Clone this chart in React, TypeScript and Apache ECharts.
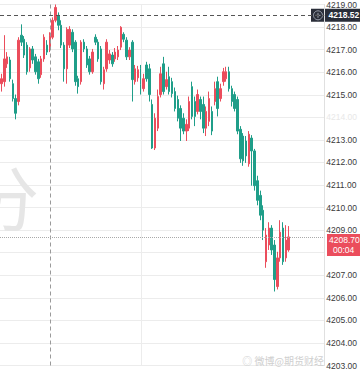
import React, { useEffect, useRef } from "react";
import * as echarts from "echarts";

// [open, close, low, high]
const candles: number[][] = [
  [4215.49, 4215.71, 4215.14, 4215.93],
  [4215.58, 4216.59, 4215.36, 4217.64],
  [4216.37, 4216.68, 4216.19, 4216.89],
  [4216.54, 4215.71, 4215.58, 4216.68],
  [4215.49, 4214.83, 4214.70, 4215.67],
  [4214.83, 4214.18, 4213.91, 4215.01],
  [4214.70, 4217.42, 4214.53, 4217.55],
  [4217.64, 4217.33, 4217.16, 4218.12],
  [4217.46, 4216.76, 4216.63, 4217.60],
  [4217.20, 4216.02, 4215.89, 4217.33],
  [4216.19, 4217.03, 4216.02, 4217.11],
  [4217.03, 4216.54, 4216.37, 4217.16],
  [4216.68, 4216.02, 4215.89, 4216.81],
  [4216.46, 4215.71, 4215.49, 4216.59],
  [4215.89, 4216.59, 4215.75, 4216.72],
  [4216.59, 4217.55, 4216.46, 4217.68],
  [4217.20, 4216.89, 4216.76, 4217.42],
  [4217.03, 4217.64, 4216.89, 4217.77],
  [4217.55, 4218.30, 4217.46, 4218.43],
  [4218.30, 4218.87, 4218.21, 4219.00],
  [4218.52, 4218.08, 4217.86, 4218.65],
  [4218.08, 4217.20, 4217.07, 4218.30],
  [4217.20, 4216.15, 4215.58, 4217.33],
  [4216.15, 4217.90, 4215.49, 4217.99],
  [4217.20, 4217.90, 4217.07, 4218.04],
  [4217.77, 4217.03, 4216.89, 4217.90],
  [4217.33, 4215.58, 4215.40, 4217.42],
  [4215.71, 4215.36, 4215.05, 4215.84],
  [4215.58, 4217.33, 4215.45, 4217.42],
  [4217.33, 4217.03, 4216.89, 4217.46],
  [4217.03, 4216.32, 4216.19, 4217.16],
  [4216.59, 4216.02, 4215.89, 4216.72],
  [4216.02, 4216.89, 4215.93, 4217.03],
  [4217.55, 4217.33, 4217.20, 4217.68],
  [4217.33, 4216.59, 4216.46, 4217.46],
  [4217.03, 4215.58, 4215.45, 4217.16],
  [4215.49, 4216.11, 4215.23, 4216.24],
  [4216.15, 4217.33, 4216.02, 4217.46],
  [4216.54, 4216.81, 4216.37, 4216.98],
  [4216.76, 4216.37, 4216.24, 4216.89],
  [4216.59, 4216.89, 4216.46, 4217.07],
  [4216.68, 4216.98, 4216.54, 4217.16],
  [4217.11, 4217.99, 4216.98, 4218.04],
  [4217.68, 4217.46, 4217.33, 4217.77],
  [4217.42, 4216.68, 4216.54, 4217.55],
  [4216.68, 4216.98, 4216.54, 4217.11],
  [4217.33, 4215.67, 4214.70, 4217.42],
  [4215.58, 4216.15, 4215.45, 4216.32],
  [4215.75, 4216.11, 4215.58, 4216.28],
  [4216.15, 4215.45, 4215.01, 4216.32],
  [4215.27, 4215.71, 4215.14, 4215.93],
  [4216.32, 4215.71, 4215.58, 4216.46],
  [4216.15, 4215.01, 4214.70, 4216.37],
  [4214.57, 4212.64, 4212.60, 4214.79],
  [4212.64, 4213.96, 4212.55, 4214.18],
  [4213.52, 4214.92, 4213.39, 4215.23],
  [4215.01, 4215.93, 4214.88, 4216.24],
  [4216.37, 4215.14, 4215.01, 4216.68],
  [4215.36, 4215.67, 4215.23, 4216.02],
  [4215.80, 4215.14, 4215.01, 4216.24],
  [4215.58, 4215.05, 4214.88, 4215.75],
  [4215.14, 4214.39, 4214.26, 4215.32],
  [4214.79, 4213.96, 4213.82, 4214.96],
  [4214.39, 4213.52, 4212.95, 4214.53],
  [4213.96, 4213.39, 4213.25, 4214.18],
  [4213.39, 4213.69, 4212.95, 4213.91],
  [4213.52, 4214.70, 4213.39, 4214.92],
  [4215.36, 4214.04, 4213.91, 4215.58],
  [4214.70, 4214.04, 4213.61, 4214.92],
  [4214.26, 4215.01, 4214.13, 4215.23],
  [4214.79, 4214.26, 4213.91, 4214.92],
  [4214.57, 4213.52, 4213.30, 4214.92],
  [4213.52, 4214.26, 4213.17, 4214.48],
  [4213.82, 4214.83, 4213.61, 4215.14],
  [4214.26, 4213.39, 4213.21, 4214.48],
  [4214.70, 4215.27, 4214.53, 4215.58],
  [4215.58, 4214.39, 4214.04, 4215.80],
  [4214.83, 4215.27, 4214.70, 4215.49],
  [4215.58, 4216.02, 4215.40, 4216.19],
  [4215.71, 4216.02, 4215.58, 4216.24],
  [4216.02, 4215.27, 4215.14, 4216.24],
  [4215.27, 4214.70, 4214.48, 4215.40],
  [4215.01, 4214.39, 4214.26, 4215.14],
  [4214.79, 4213.39, 4213.25, 4214.92],
  [4213.47, 4212.16, 4211.98, 4213.61],
  [4213.17, 4212.07, 4211.85, 4213.30],
  [4212.95, 4212.29, 4211.98, 4213.17],
  [4211.94, 4213.25, 4211.81, 4213.39],
  [4213.08, 4212.51, 4210.97, 4213.21],
  [4212.51, 4210.97, 4210.75, 4212.60],
  [4211.19, 4210.32, 4210.10, 4211.41],
  [4210.54, 4209.66, 4209.44, 4210.75],
  [4209.88, 4209.00, 4208.56, 4210.10],
  [4207.60, 4208.78, 4207.33, 4209.09],
  [4208.34, 4209.09, 4208.12, 4209.35],
  [4209.09, 4208.12, 4207.90, 4209.22],
  [4208.34, 4206.81, 4206.28, 4208.56],
  [4206.50, 4207.77, 4206.37, 4208.04],
  [4207.77, 4208.91, 4207.60, 4209.44],
  [4209.09, 4207.60, 4207.46, 4209.35],
  [4207.77, 4208.56, 4207.60, 4209.22],
  [4208.12, 4208.70, 4208.04, 4209.18],
];

const emptySlots = 12;
const yMin = 4203;
const yMax = 4219;
const yStep = 1;
const markedHigh = 4218.52;
const lastPrice = 4208.7;
const countdown = "00:04";
const crosshairIndex = 17;
const gridLineIndex = 49;
const fadedTick = 4214;
const hiddenTick = 4208;

const categories: string[] = [];
for (let i = 0; i < candles.length + emptySlots; i++) {
  const m = 9 * 60 + i;
  categories.push(
    String(Math.floor(m / 60)).padStart(2, "0") + ":" + String(m % 60).padStart(2, "0")
  );
}
const seriesData: any[] = [...candles];
for (let i = 0; i < emptySlots; i++) seriesData.push("-");

const UP = "#eb4d5c";
const DOWN = "#1f9e89";
const FONT = "Liberation Sans";
const FS = 8.5;

export default function App() {
  const ref = useRef<HTMLDivElement>(null);
  useEffect(() => {
    if (!ref.current) return;
    const chart = echarts.init(ref.current, undefined, { renderer: "svg" });
    chart.setOption({
      animation: false,
      backgroundColor: "#ffffff",
      grid: { left: 0, right: 33, top: 2, bottom: 3, containLabel: false },
      xAxis: {
        type: "category",
        data: categories,
        boundaryGap: true,
        axisLine: { show: false },
        axisTick: { show: false },
        axisLabel: { show: false },
        splitLine: { show: false },
      },
      yAxis: {
        type: "value",
        position: "right",
        min: yMin,
        max: yMax,
        interval: yStep,
        axisLine: { show: true, lineStyle: { color: "#e0e0e0" } },
        axisTick: { show: false },
        splitLine: { show: true, lineStyle: { color: "#ececec", width: 1 } },
        axisLabel: {
          margin: 2,
          fontSize: FS,
          color: "#3a3a3a",
          fontFamily: FONT,
          formatter: (v: number) =>
            v === hiddenTick
              ? ""
              : v === fadedTick
              ? "{f|" + v.toFixed(2) + "}"
              : v.toFixed(2),
          rich: { f: { color: "#e8e8e8", fontSize: FS, fontFamily: FONT } },
        },
      },
      series: [
        {
          type: "candlestick",
          data: seriesData,
          barWidth: 2,
          itemStyle: {
            color: UP,
            color0: DOWN,
            borderColor: UP,
            borderColor0: DOWN,
            borderWidth: 1,
          },
          markLine: {
            silent: true,
            symbol: "none",
            animation: false,
            label: { show: false },
            data: [
              {
                xAxis: categories[gridLineIndex],
                lineStyle: { color: "#ececec", type: "solid", width: 1 },
              },
              {
                xAxis: categories[crosshairIndex],
                lineStyle: { color: "#9a9a9a", type: [4, 3], width: 1 },
              },
              {
                yAxis: markedHigh,
                lineStyle: { color: "#555", type: [4, 3], width: 1 },
              },
              {
                yAxis: lastPrice,
                lineStyle: { color: "#aaaaaa", type: "dotted", width: 1 },
              },
            ],
          },
        },
      ],
    });

    const yHigh = chart.convertToPixel({ yAxisIndex: 0 }, markedHigh) as number;
    const yLast = chart.convertToPixel({ yAxisIndex: 0 }, lastPrice) as number;
    const W = chart.getWidth();
    const axisX = W - 33;

    chart.setOption({
      graphic: [
        {
          type: "text",
          left: -31,
          top: 160,
          silent: true,
          z: 0,
          style: {
            text: "分",
            fontSize: 70,
            fill: "#e6e6e6",
            fontFamily: "Noto Sans CJK SC",
          },
        },
        {
          type: "text",
          right: 36,
          bottom: 5,
          silent: true,
          style: {
            text: "◎ 微博@期货财经",
            fontSize: 10,
            fill: "#cfcfcf",
            fontFamily: "Noto Sans CJK SC",
          },
        },
        {
          type: "group",
          silent: true,
          z: 100,
          children: [
            {
              type: "rect",
              shape: { x: axisX - 16, y: yHigh - 6.5, width: W - axisX + 16, height: 13 },
              style: { fill: "#2a2e39" },
            },
            {
              type: "circle",
              shape: { cx: axisX - 9, cy: yHigh, r: 4.5 },
              style: { fill: "none", stroke: "#9aa0ad", lineWidth: 1 },
            },
            {
              type: "line",
              shape: { x1: axisX - 11.5, y1: yHigh, x2: axisX - 6.5, y2: yHigh },
              style: { stroke: "#9aa0ad", lineWidth: 1 },
            },
            {
              type: "line",
              shape: { x1: axisX - 9, y1: yHigh - 2.5, x2: axisX - 9, y2: yHigh + 2.5 },
              style: { stroke: "#9aa0ad", lineWidth: 1 },
            },
            {
              type: "text",
              x: axisX + 1.5,
              y: yHigh,
              style: {
                text: markedHigh.toFixed(2),
                fill: "#ffffff",
                fontSize: FS,
                fontWeight: "bold",
                fontFamily: FONT,
                verticalAlign: "middle",
                align: "left",
              },
            },
            {
              type: "rect",
              shape: { x: axisX, y: yLast - 3, width: W - axisX, height: 22 },
              style: { fill: UP },
            },
            {
              type: "text",
              x: axisX + 2,
              y: yLast + 3,
              style: {
                text: lastPrice.toFixed(2),
                fill: "#ffffff",
                fontSize: FS,
                fontFamily: FONT,
                verticalAlign: "middle",
                align: "left",
              },
            },
            {
              type: "text",
              x: axisX + 6,
              y: yLast + 13,
              style: {
                text: countdown,
                fill: "#ffffff",
                fontSize: FS,
                fontFamily: FONT,
                verticalAlign: "middle",
                align: "left",
              },
            },
          ],
        },
      ],
    });
    return () => chart.dispose();
  }, []);
  return (
    <div
      ref={ref}
      style={{ position: "fixed", left: 0, top: 0, width: 360, height: 370 }}
    />
  );
}
